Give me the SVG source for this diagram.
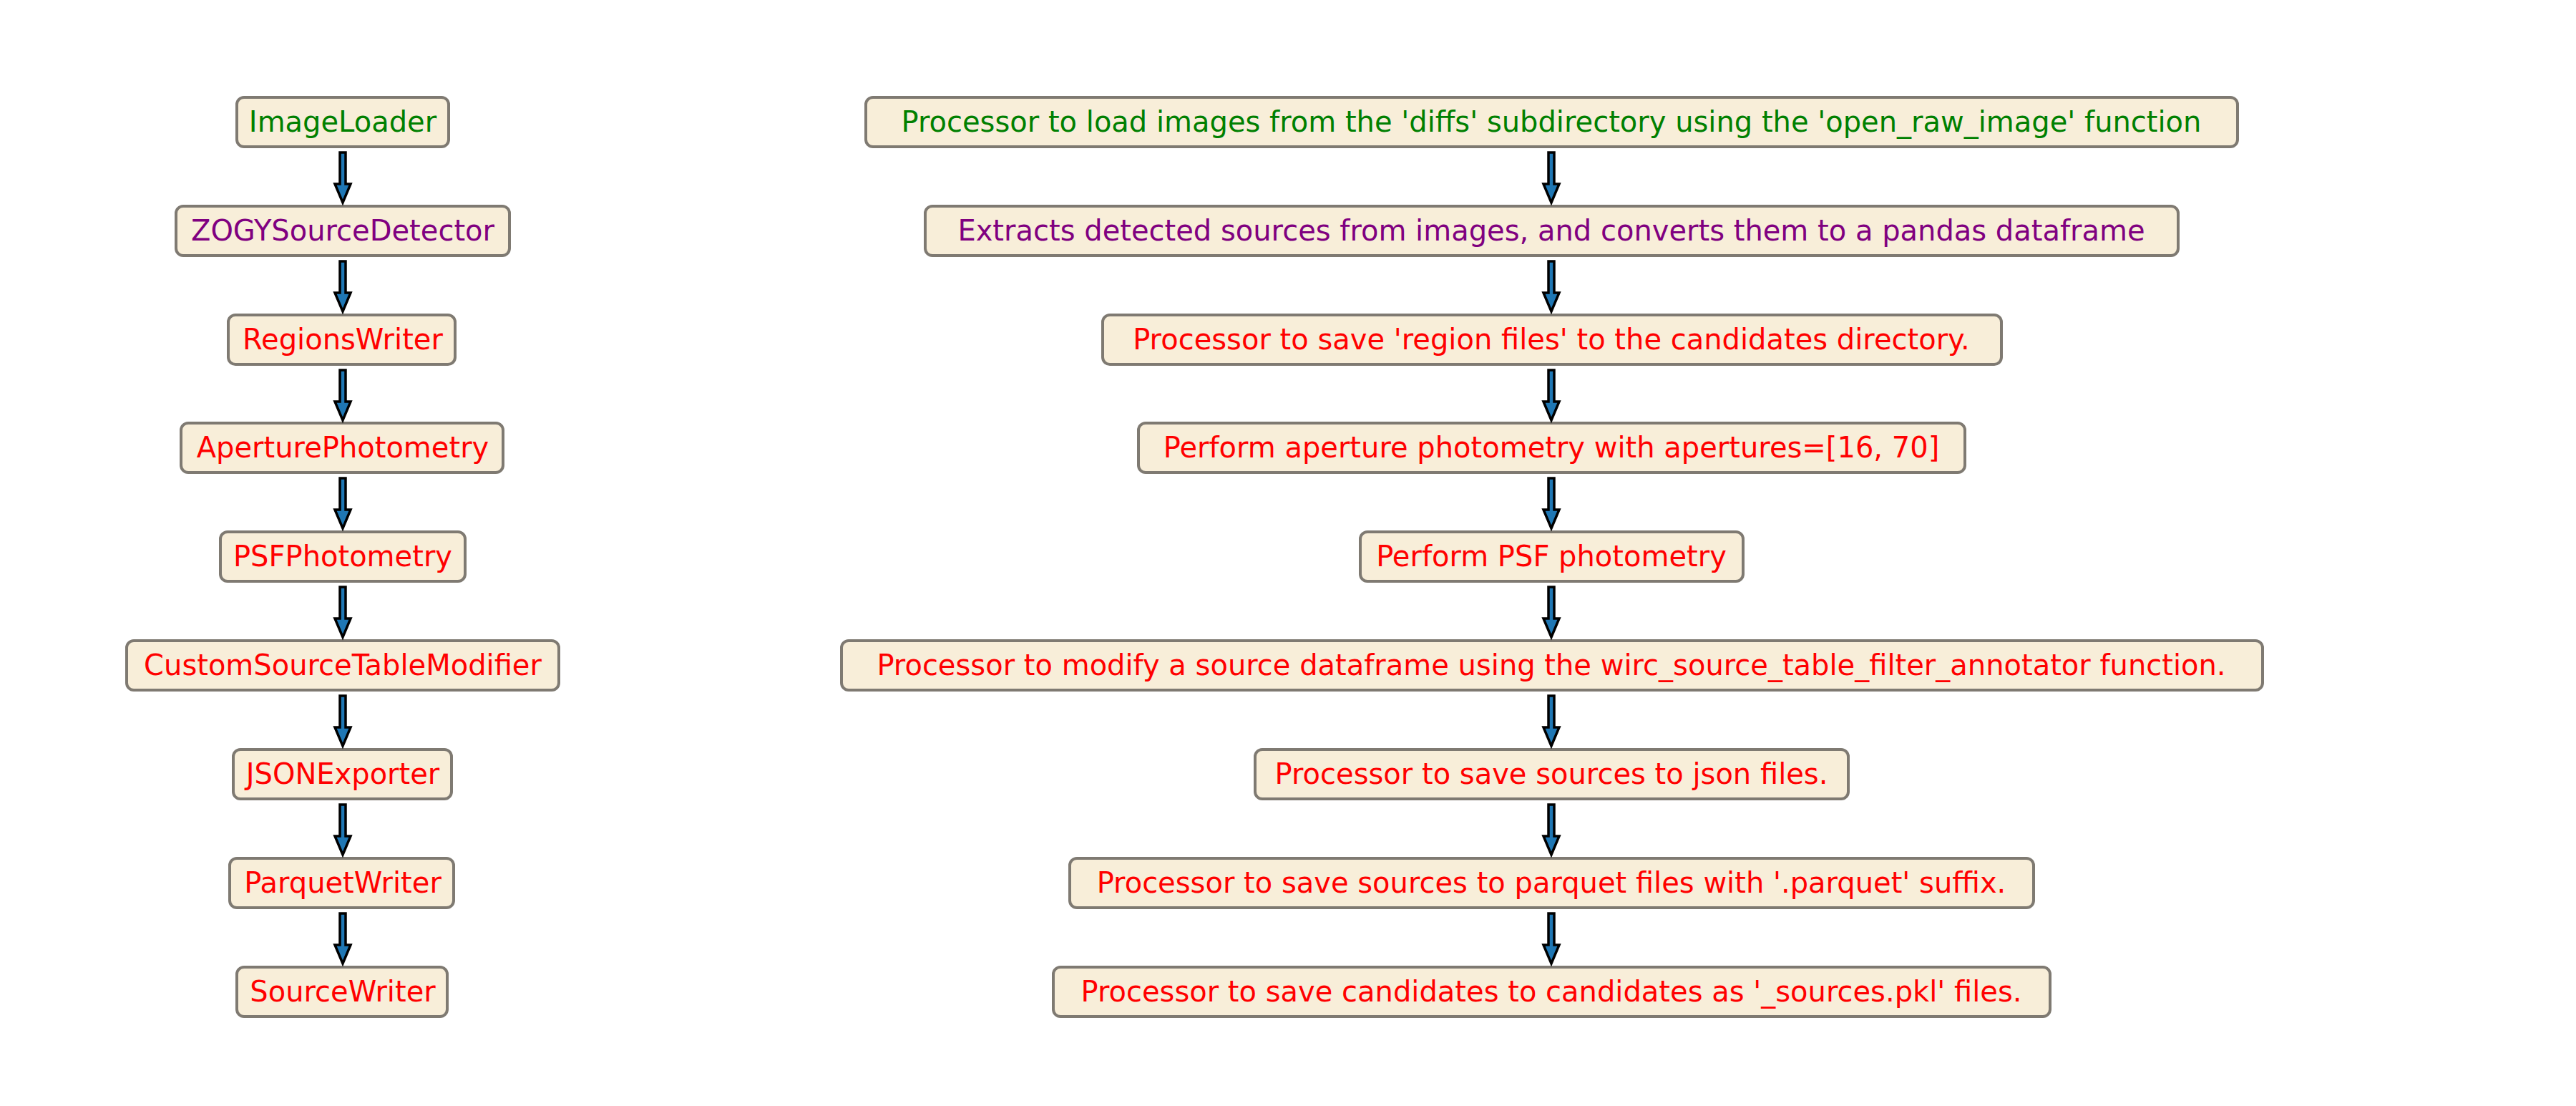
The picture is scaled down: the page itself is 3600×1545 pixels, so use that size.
<svg xmlns="http://www.w3.org/2000/svg" width="3600" height="1545" viewBox="0 0 3600 1545">
<style>
.b{fill:#f8eed9;stroke:#7f7a72;stroke-width:4}
text{font-family:"DejaVu Sans",sans-serif;font-size:40px;text-anchor:middle}
.g{fill:#008000}.p{fill:#800080}.r{fill:#ff0000}
.a{fill:#1f77b4;stroke:#000;stroke-width:3.5;stroke-linejoin:miter}
</style>
<defs>
<path id="ar" class="a" d="M-4,0 L4,0 L4,44 L11,44 L0,70 L-11,44 L-4,44 Z"/>
</defs>
<rect width="3600" height="1545" fill="#fff"/>
<g id="n1"><rect class="b" x="331" y="136" width="296" height="69" rx="10"/><text class="g" x="479" y="184">ImageLoader</text></g>
<g id="n2"><rect class="b" x="246" y="288" width="466" height="69" rx="10"/><text class="p" x="479" y="336">ZOGYSourceDetector</text></g>
<g id="n3"><rect class="b" x="319" y="440" width="317" height="69" rx="10"/><text class="r" x="479" y="488">RegionsWriter</text></g>
<g id="n4"><rect class="b" x="253" y="591" width="450" height="69" rx="10"/><text class="r" x="479" y="639">AperturePhotometry</text></g>
<g id="n5"><rect class="b" x="308" y="743" width="342" height="69" rx="10"/><text class="r" x="479" y="791">PSFPhotometry</text></g>
<g id="n6"><rect class="b" x="177" y="895" width="604" height="69" rx="10"/><text class="r" x="479" y="943">CustomSourceTableModifier</text></g>
<g id="n7"><rect class="b" x="326" y="1047" width="305" height="69" rx="10"/><text class="r" x="479" y="1095">JSONExporter</text></g>
<g id="n8"><rect class="b" x="321" y="1199" width="313" height="69" rx="10"/><text class="r" x="479" y="1247">ParquetWriter</text></g>
<g id="n9"><rect class="b" x="331" y="1351" width="294" height="69" rx="10"/><text class="r" x="479" y="1399">SourceWriter</text></g>

<g id="d1"><rect class="b" x="1210" y="136" width="1917" height="69" rx="10"/><text class="g" x="2168" y="184">Processor to load images from the 'diffs' subdirectory using the 'open_raw_image' function</text></g>
<g id="d2"><rect class="b" x="1293" y="288" width="1751" height="69" rx="10"/><text class="p" x="2168" y="336">Extracts detected sources from images, and converts them to a pandas dataframe</text></g>
<g id="d3"><rect class="b" x="1541" y="440" width="1256" height="69" rx="10"/><text class="r" x="2168" y="488">Processor to save 'region files' to the candidates directory.</text></g>
<g id="d4"><rect class="b" x="1591" y="591" width="1155" height="69" rx="10"/><text class="r" x="2168" y="639">Perform aperture photometry with apertures=[16, 70]</text></g>
<g id="d5"><rect class="b" x="1901" y="743" width="535" height="69" rx="10"/><text class="r" x="2168" y="791">Perform PSF photometry</text></g>
<g id="d6"><rect class="b" x="1176" y="895" width="1986" height="69" rx="10"/><text class="r" x="2168" y="943">Processor to modify a source dataframe using the wirc_source_table_filter_annotator function.</text></g>
<g id="d7"><rect class="b" x="1754" y="1047" width="829" height="69" rx="10"/><text class="r" x="2168" y="1095">Processor to save sources to json files.</text></g>
<g id="d8"><rect class="b" x="1495" y="1199" width="1347" height="69" rx="10"/><text class="r" x="2168" y="1247">Processor to save sources to parquet files with '.parquet' suffix.</text></g>
<g id="d9"><rect class="b" x="1472" y="1351" width="1393" height="69" rx="10"/><text class="r" x="2168" y="1399">Processor to save candidates to candidates as '_sources.pkl' files.</text></g>

<g id="connectors">
<use href="#ar" x="479" y="213"/><use href="#ar" x="479" y="365"/><use href="#ar" x="479" y="517"/><use href="#ar" x="479" y="668"/><use href="#ar" x="479" y="820"/><use href="#ar" x="479" y="972"/><use href="#ar" x="479" y="1124"/><use href="#ar" x="479" y="1276"/>
<use href="#ar" x="2168" y="213"/><use href="#ar" x="2168" y="365"/><use href="#ar" x="2168" y="517"/><use href="#ar" x="2168" y="668"/><use href="#ar" x="2168" y="820"/><use href="#ar" x="2168" y="972"/><use href="#ar" x="2168" y="1124"/><use href="#ar" x="2168" y="1276"/>
</g>
</svg>
